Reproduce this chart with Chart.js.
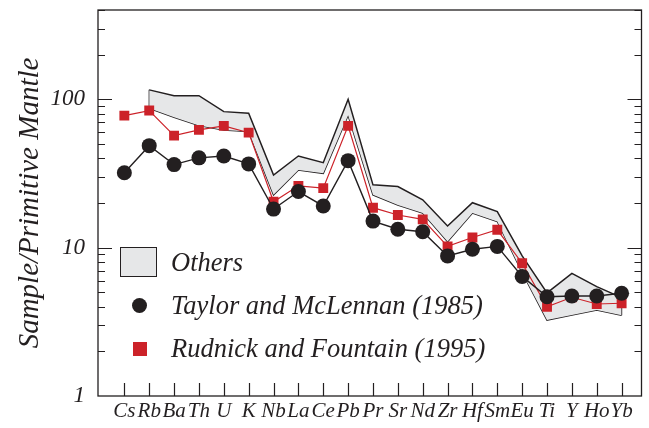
<!DOCTYPE html>
<html>
<head>
<meta charset="utf-8">
<script src="https://cdn.jsdelivr.net/npm/chart.js@4/dist/chart.umd.min.js"></script>
<style>
  html, body { margin: 0; padding: 0; background: #fff; }
  #wrap { position: relative; width: 649px; height: 428px; }
  #legend {
    position: absolute; left: 120px; top: 244px;
    font-family: "Liberation Serif", serif; font-style: italic;
    font-size: 26.5px; color: #231f20;
  }
  #legend .row { position: relative; height: 43px; line-height: 36px; padding-left: 51px; white-space: nowrap; }
  #legend .box { position: absolute; left: 0; top: 3px; width: 37px; height: 30px; background: #e6e7e8; border: 1.2px solid #231f20; box-sizing: border-box; }
  #legend .dot { position: absolute; left: 12px; top: 11px; width: 15px; height: 15px; border-radius: 50%; background: #231f20; }
  #legend .sq { position: absolute; left: 13px; top: 12px; width: 14px; height: 14px; background: #cc2229; }
</style>
</head>
<body>
<div id="wrap">
  <canvas id="c" width="649" height="428"></canvas>
  <div id="legend">
    <div class="row"><span class="box"></span>Others</div>
    <div class="row"><span class="dot"></span>Taylor and McLennan (1985)</div>
    <div class="row"><span class="sq"></span>Rudnick and Fountain (1995)</div>
  </div>
</div>
<script>
// Trace elements normalised to primitive mantle, log scale

const elements = ['Cs', 'Rb', 'Ba', 'Th', 'U', 'K', 'Nb', 'La', 'Ce', 'Pb', 'Pr', 'Sr', 'Nd', 'Zr', 'Hf', 'Sm', 'Eu', 'Ti', 'Y', 'Ho', 'Yb'];
const taylor = [32, 48.7, 36.3, 40.3, 41.5, 36.7, 18.2, 23.9, 19.1, 38.6, 15.1, 13.3, 12.8, 8.8, 9.75, 10.2, 6.4, 4.67, 4.72, 4.72, 4.93];
const rudnick = [77.6, 84, 56.9, 62.2, 66.2, 59.6, 20.4, 26.1, 25.2, 66.2, 18.6, 16.6, 15.5, 10.2, 11.7, 13.2, 7.85, 4.0, 4.63, 4.17, 4.22];
// envelope of the other estimates (none for Cs)
const othersHigh = [null, 115.8, 105.8, 105.8, 82.6, 80.6, 30.9, 41.5, 37.4, 100, 26.5, 25.8, 21, 14, 20.1, 17.5, 8.8, 4.95, 6.7, 5.46, 4.6];
const othersLow = [null, 87, 75.7, 66.5, 62.2, 60.6, 22.7, 33.4, 31.7, 78, 22.7, 19.4, 17.1, 11.0, 17.1, 15, 6.8, 3.25, 3.52, 3.8, 3.5];
const yTickLabels = [1, 10, 100];

const INK = '#231f20';
const RED = '#cc2229';
const FONT = '"Liberation Serif", serif';

function pts(arr) {
  return arr.map((v, i) => ({ x: i, y: v })).filter(p => p.y !== null);
}
const firstBand = othersHigh.findIndex(v => v !== null);
const lastBand = othersHigh.length - 1;

function noPad(s) {
  s.paddingTop = 0; s.paddingBottom = 0;
  s.paddingLeft = 0; s.paddingRight = 0;
}

// frame box + inward ticks
const frameTicks = {
  id: 'frameTicks',
  beforeDatasetsDraw(chart) {
    const { ctx, chartArea: a, scales } = chart;
    const ys = scales.y, xs = scales.x;
    ctx.save();
    ctx.strokeStyle = INK;
    ctx.lineWidth = 1.3;
    ctx.strokeRect(a.left, a.top, a.right - a.left, a.bottom - a.top);
    ctx.lineWidth = 1.2;
    ctx.beginPath();
    for (let d = 1; d <= 100; d *= 10) {
      for (let m = 1; m <= 9; m++) {
        const v = m * d;
        if (v > 400 || v === 1) continue;
        const py = Math.round(ys.getPixelForValue(v)) + 0.5;
        const len = m === 1 ? 14 : 7;
        ctx.moveTo(a.left, py); ctx.lineTo(a.left + len, py);
        ctx.moveTo(a.right, py); ctx.lineTo(a.right - len, py);
      }
    }
    elements.forEach((e, i) => {
      const px = Math.round(xs.getPixelForValue(i)) + 0.5;
      ctx.moveTo(px, a.bottom); ctx.lineTo(px, a.bottom - 13);
    });
    ctx.stroke();
    ctx.restore();
  }
};

new Chart(document.getElementById('c'), {
  type: 'line',
  data: {
    datasets: [
      {
        label: 'Taylor and McLennan (1985)',
        data: pts(taylor),
        borderColor: INK, borderWidth: 1.4,
        pointStyle: 'circle', pointRadius: 7.5,
        pointBackgroundColor: INK, pointBorderWidth: 0,
        order: 0
      },
      {
        label: 'Rudnick and Fountain (1995)',
        data: pts(rudnick),
        borderColor: RED, borderWidth: 1.2,
        pointStyle: 'rect', pointRadius: 7,
        pointBackgroundColor: RED, pointBorderWidth: 0,
        order: 1
      },
      {
        label: 'Others',
        data: pts(othersHigh),
        borderColor: INK, borderWidth: 1.5,
        backgroundColor: '#e6e7e8',
        fill: '+1', pointRadius: 0,
        order: 2
      },
      {
        label: 'Others low',
        data: pts(othersLow),
        borderColor: INK, borderWidth: 1.5,
        fill: false, pointRadius: 0,
        order: 3
      },
      {
        label: 'edge left',
        data: [{ x: firstBand, y: othersHigh[firstBand] }, { x: firstBand, y: othersLow[firstBand] }],
        borderColor: INK, borderWidth: 1.2, pointRadius: 0, fill: false,
        order: 4
      },
      {
        label: 'edge right',
        data: [{ x: lastBand, y: othersHigh[lastBand] }, { x: lastBand, y: othersLow[lastBand] }],
        borderColor: INK, borderWidth: 1.2, pointRadius: 0, fill: false,
        order: 5
      }
    ]
  },
  options: {
    responsive: false,
    animation: false,
    events: [],
    layout: { padding: { top: 10, right: 1, left: 0, bottom: 0 } },
    plugins: { legend: { display: false }, tooltip: { enabled: false } },
    scales: {
      x: {
        type: 'linear',
        min: -1.06, max: 20.8,
        grid: { display: false, drawTicks: false },
        border: { display: false },
        afterBuildTicks: s => { s.ticks = elements.map((e, i) => ({ value: i })); },
        afterFit: s => { s.height = 32; noPad(s); },
        ticks: {
          autoSkip: false, maxRotation: 0, padding: 3,
          color: INK,
          font: { family: FONT, style: 'italic', size: 21 },
          callback: v => elements[v]
        }
      },
      y: {
        type: 'logarithmic',
        min: 1, max: 400,
        grid: { display: false, drawTicks: false },
        border: { display: false },
        afterBuildTicks: s => { s.ticks = yTickLabels.map(v => ({ value: v })); },
        afterFit: s => { s.width = 98; noPad(s); },
        ticks: {
          padding: 13, color: INK,
          font: { family: FONT, style: 'italic', size: 23 },
          callback: v => String(v)
        },
        title: {
          display: true,
          text: 'Sample/Primitive Mantle',
          color: INK,
          font: { family: FONT, style: 'italic', size: 29 },
          padding: { top: 13, bottom: 0 }
        }
      }
    }
  },
  plugins: [frameTicks]
});
</script>
</body>
</html>
